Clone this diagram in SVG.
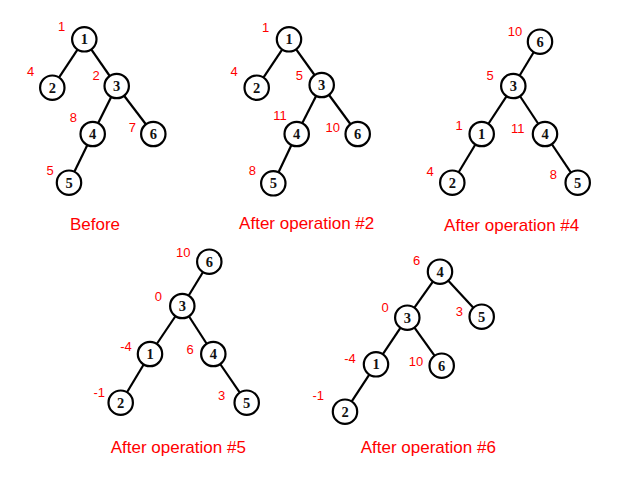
<svg xmlns="http://www.w3.org/2000/svg" width="618" height="478" viewBox="0 0 618 478">
<style>
.bg{fill:#fff}
.n circle{fill:#fff;stroke:#000;stroke-width:2.2}
.n text{font-family:"Liberation Serif","Times New Roman",serif;font-weight:bold;font-size:14.5px;text-anchor:middle;fill:#111}
.e line{stroke:#000;stroke-width:2.2}
.lb{font-family:"Liberation Sans",Arial,sans-serif;font-size:13px;fill:#f00;text-anchor:middle}
.cap{font-family:"Liberation Sans",Arial,sans-serif;font-size:17px;fill:#f00;text-anchor:middle}
</style>
<rect class="bg" width="618" height="478"/>

<!-- Tree 1: Before -->
<g id="t1-edges" class="e">
<line x1="84.3" y1="39.3" x2="52.3" y2="87.7"/>
<line x1="84.3" y1="39.3" x2="116.7" y2="86"/>
<line x1="116.7" y1="86" x2="92.7" y2="134"/>
<line x1="116.7" y1="86" x2="153.3" y2="134"/>
<line x1="92.7" y1="134" x2="69" y2="182.7"/>
</g>
<g id="t1-n1" class="n"><circle cx="84.3" cy="39.3" r="12.2"/><text x="84.3" y="44.3">1</text></g>
<g id="t1-n2" class="n"><circle cx="52.3" cy="87.7" r="12.2"/><text x="52.3" y="92.7">2</text></g>
<g id="t1-n3" class="n"><circle cx="116.7" cy="86" r="12.2"/><text x="116.7" y="91">3</text></g>
<g id="t1-n4" class="n"><circle cx="92.7" cy="134" r="12.2"/><text x="92.7" y="139">4</text></g>
<g id="t1-n6" class="n"><circle cx="153.3" cy="134" r="12.2"/><text x="153.3" y="139">6</text></g>
<g id="t1-n5" class="n"><circle cx="69" cy="182.7" r="12.2"/><text x="69" y="187.7">5</text></g>
<g id="t1-labels">
<text class="lb" x="61.7" y="31.4">1</text>
<text class="lb" x="30.7" y="75.7">4</text>
<text class="lb" x="96" y="80.4">2</text>
<text class="lb" x="73.3" y="121.7">8</text>
<text class="lb" x="132.3" y="132.4">7</text>
<text class="lb" x="50" y="175.4">5</text>
</g>
<text class="cap" x="95" y="229.5">Before</text>

<!-- Tree 2 -->
<g id="t2-edges" class="e">
<line x1="289" y1="39.3" x2="256.7" y2="87.7"/>
<line x1="289" y1="39.3" x2="321.7" y2="85"/>
<line x1="321.7" y1="85" x2="296.7" y2="134"/>
<line x1="321.7" y1="85" x2="357.7" y2="134"/>
<line x1="296.7" y1="134" x2="273.3" y2="183.3"/>
</g>
<g id="t2-n1" class="n"><circle cx="289" cy="39.3" r="12.2"/><text x="289" y="44.3">1</text></g>
<g id="t2-n2" class="n"><circle cx="256.7" cy="87.7" r="12.2"/><text x="256.7" y="92.7">2</text></g>
<g id="t2-n3" class="n"><circle cx="321.7" cy="85" r="12.2"/><text x="321.7" y="90">3</text></g>
<g id="t2-n4" class="n"><circle cx="296.7" cy="134" r="12.2"/><text x="296.7" y="139">4</text></g>
<g id="t2-n6" class="n"><circle cx="357.7" cy="134" r="12.2"/><text x="357.7" y="139">6</text></g>
<g id="t2-n5" class="n"><circle cx="273.3" cy="183.3" r="12.2"/><text x="273.3" y="188.3">5</text></g>
<g id="t2-labels">
<text class="lb" x="265.7" y="32">1</text>
<text class="lb" x="234" y="75.7">4</text>
<text class="lb" x="299.3" y="79.7">5</text>
<text class="lb" x="280" y="119.7">11</text>
<text class="lb" x="332.7" y="132">10</text>
<text class="lb" x="252.3" y="174.7">8</text>
</g>
<text class="cap" x="306.7" y="229">After operation #2</text>

<!-- Tree 3 -->
<g id="t3-edges" class="e">
<line x1="540" y1="41.7" x2="513.3" y2="86"/>
<line x1="513.3" y1="86" x2="481.7" y2="134"/>
<line x1="513.3" y1="86" x2="545" y2="134"/>
<line x1="481.7" y1="134" x2="452.3" y2="182.7"/>
<line x1="545" y1="134" x2="577.7" y2="182.7"/>
</g>
<g id="t3-n6" class="n"><circle cx="540" cy="41.7" r="12.2"/><text x="540" y="46.7">6</text></g>
<g id="t3-n3" class="n"><circle cx="513.3" cy="86" r="12.2"/><text x="513.3" y="91">3</text></g>
<g id="t3-n1" class="n"><circle cx="481.7" cy="134" r="12.2"/><text x="481.7" y="139">1</text></g>
<g id="t3-n4" class="n"><circle cx="545" cy="134" r="12.2"/><text x="545" y="139">4</text></g>
<g id="t3-n2" class="n"><circle cx="452.3" cy="182.7" r="12.2"/><text x="452.3" y="187.7">2</text></g>
<g id="t3-n5" class="n"><circle cx="577.7" cy="182.7" r="12.2"/><text x="577.7" y="187.7">5</text></g>
<g id="t3-labels">
<text class="lb" x="515" y="36.4">10</text>
<text class="lb" x="490" y="79.7">5</text>
<text class="lb" x="459" y="129.7">1</text>
<text class="lb" x="517.7" y="133">11</text>
<text class="lb" x="430" y="175.7">4</text>
<text class="lb" x="553.3" y="179">8</text>
</g>
<text class="cap" x="511.7" y="230.5">After operation #4</text>

<!-- Tree 4 -->
<g id="t4-edges" class="e">
<line x1="209.3" y1="261.7" x2="182.3" y2="306"/>
<line x1="182.3" y1="306" x2="150" y2="354"/>
<line x1="182.3" y1="306" x2="213.3" y2="354"/>
<line x1="150" y1="354" x2="120.7" y2="402.7"/>
<line x1="213.3" y1="354" x2="246.7" y2="402.7"/>
</g>
<g id="t4-n6" class="n"><circle cx="209.3" cy="261.7" r="12.2"/><text x="209.3" y="266.7">6</text></g>
<g id="t4-n3" class="n"><circle cx="182.3" cy="306" r="12.2"/><text x="182.3" y="311">3</text></g>
<g id="t4-n1" class="n"><circle cx="150" cy="354" r="12.2"/><text x="150" y="359">1</text></g>
<g id="t4-n4" class="n"><circle cx="213.3" cy="354" r="12.2"/><text x="213.3" y="359">4</text></g>
<g id="t4-n2" class="n"><circle cx="120.7" cy="402.7" r="12.2"/><text x="120.7" y="407.7">2</text></g>
<g id="t4-n5" class="n"><circle cx="246.7" cy="402.7" r="12.2"/><text x="246.7" y="407.7">5</text></g>
<g id="t4-labels">
<text class="lb" x="183.3" y="257">10</text>
<text class="lb" x="158.3" y="301.4">0</text>
<text class="lb" x="126" y="350.7">-4</text>
<text class="lb" x="190" y="354">6</text>
<text class="lb" x="99.3" y="397.4">-1</text>
<text class="lb" x="221.7" y="399.7">3</text>
</g>
<text class="cap" x="178.3" y="452.5">After operation #5</text>

<!-- Tree 5 -->
<g id="t5-edges" class="e">
<line x1="440" y1="271.7" x2="407.3" y2="317.7"/>
<line x1="440" y1="271.7" x2="481.7" y2="316.7"/>
<line x1="407.3" y1="317.7" x2="376" y2="364.3"/>
<line x1="407.3" y1="317.7" x2="441.7" y2="365.7"/>
<line x1="376" y1="364.3" x2="345" y2="411.7"/>
</g>
<g id="t5-n4" class="n"><circle cx="440" cy="271.7" r="12.2"/><text x="440" y="276.7">4</text></g>
<g id="t5-n3" class="n"><circle cx="407.3" cy="317.7" r="12.2"/><text x="407.3" y="322.7">3</text></g>
<g id="t5-n5" class="n"><circle cx="481.7" cy="316.7" r="12.2"/><text x="481.7" y="321.7">5</text></g>
<g id="t5-n1" class="n"><circle cx="376" cy="364.3" r="12.2"/><text x="376" y="369.3">1</text></g>
<g id="t5-n6" class="n"><circle cx="441.7" cy="365.7" r="12.2"/><text x="441.7" y="370.7">6</text></g>
<g id="t5-n2" class="n"><circle cx="345" cy="411.7" r="12.2"/><text x="345" y="416.7">2</text></g>
<g id="t5-labels">
<text class="lb" x="416.7" y="264.7">6</text>
<text class="lb" x="385" y="312.4">0</text>
<text class="lb" x="459.3" y="315.7">3</text>
<text class="lb" x="350" y="363">-4</text>
<text class="lb" x="416" y="365.7">10</text>
<text class="lb" x="318.3" y="400.4">-1</text>
</g>
<text class="cap" x="428.3" y="452.5">After operation #6</text>
</svg>
